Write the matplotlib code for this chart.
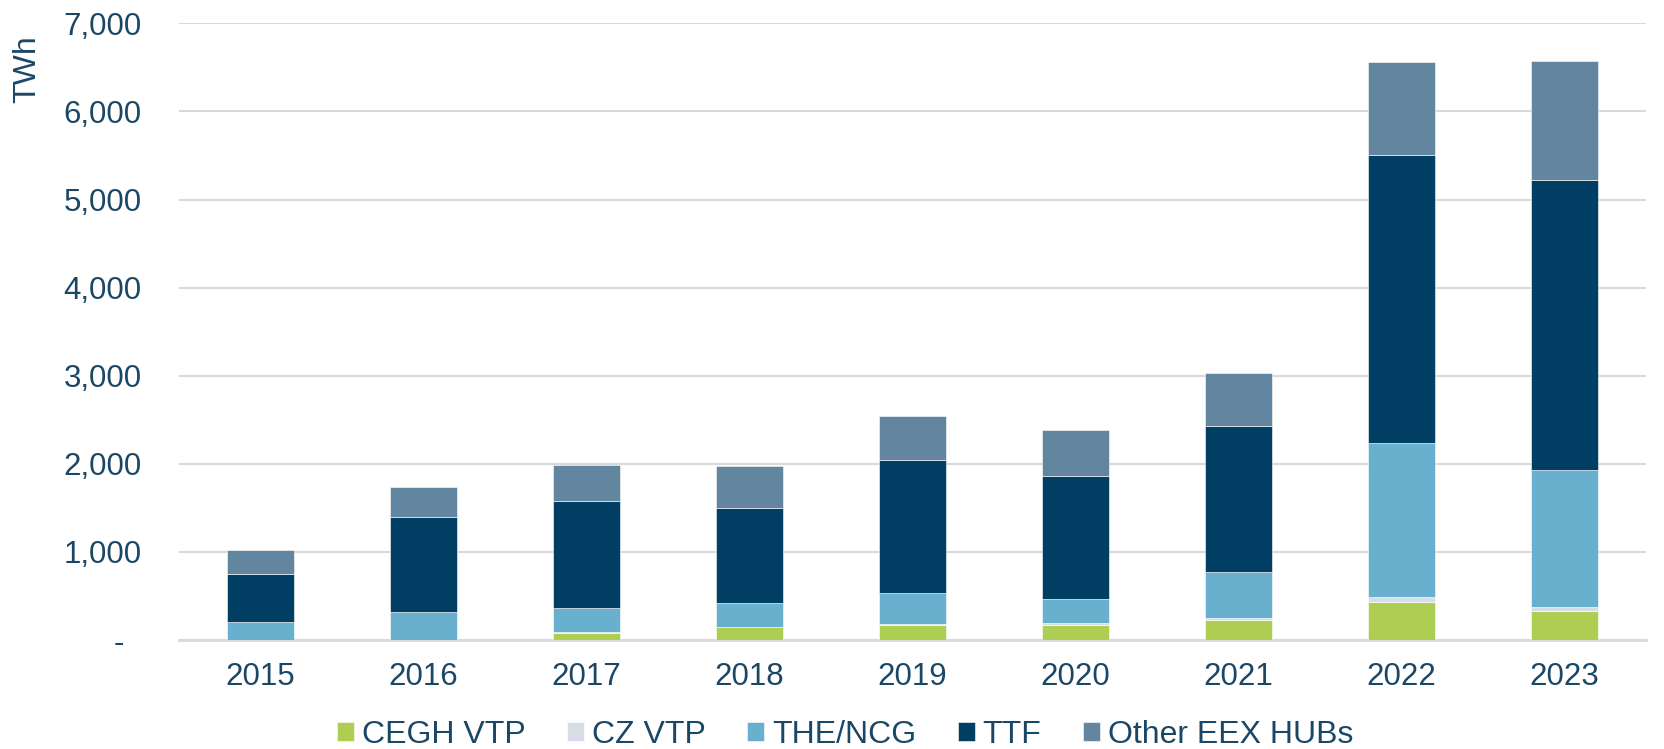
import matplotlib
matplotlib.use('Agg')
import matplotlib.pyplot as plt
from matplotlib.ticker import FuncFormatter
import numpy as np

years = ['2015', '2016', '2017', '2018', '2019', '2020', '2021', '2022', '2023']
hubs = ['CEGH VTP', 'CZ VTP', 'THE/NCG', 'TTF', 'Other EEX HUBs']

cegh = [5, 5, 85, 145, 175, 170, 230, 430, 335]
cz = [0, 0, 5, 5, 5, 20, 25, 60, 45]
the_ncg = [200, 310, 270, 265, 350, 280, 515, 1750, 1550]
ttf = [545, 1085, 1215, 1085, 1518, 1397, 1665, 3265, 3290]
other = [275, 335, 410, 470, 494, 519, 600, 1060, 1355]

colors = ['#AECD53', '#D6DDE6', '#69B0CE', '#003F63', '#6386A0']
text_col = '#1B4767'

plt.rcParams['font.family'] = ['Liberation Sans', 'DejaVu Sans']
fs = 22.5

fig = plt.figure(figsize=(16.65, 7.49), dpi=100)
ax = fig.add_axes([0.1075, 0.1455, 0.881, 0.8233])

x = np.arange(len(years))
bottom = np.zeros(len(years))
for name, vals, c in zip(hubs, [cegh, cz, the_ncg, ttf, other], colors):
    ax.bar(x, vals, 0.41, bottom=bottom, color=c, label=name, zorder=3,
           edgecolor='white', linewidth=0.4)
    bottom += np.array(vals)

ax.set_xlim(-0.5, len(years) - 0.5)
ax.set_ylim(0, 7000)
ax.set_yticks(range(0, 7001, 1000))
# accounting style: zero shown as a dash, set in from the right
ax.yaxis.set_major_formatter(FuncFormatter(lambda v, p: '-  ' if v == 0 else f'{int(v):,}'))
ax.set_xticks(x)
ax.set_xticklabels(years)
ax.grid(axis='y', color='#D9D9D9', linewidth=1.5, zorder=0)
for s in ['top', 'right', 'left']:
    ax.spines[s].set_visible(False)
ax.spines['bottom'].set_color('#D9D9D9')
ax.spines['bottom'].set_linewidth(2)
ax.tick_params(axis='both', length=0, labelsize=fs, labelcolor=text_col)
ax.tick_params(axis='y', pad=27)
ax.tick_params(axis='x', pad=16)

fig.text(0.0165, 0.908, 'TWh', rotation=90, fontsize=23, color=text_col,
         ha='center', va='center')

handles, labels = ax.get_legend_handles_labels()
leg = fig.legend(handles, labels, loc='center', bbox_to_anchor=(0.5075, 0.019), ncol=5,
                 frameon=False, fontsize=23, borderpad=0, handlelength=0.53,
                 handleheight=0.53, handletextpad=0.25, columnspacing=1.3)
for t in leg.get_texts():
    t.set_color(text_col)

fig.savefig('out.png', dpi=100)
